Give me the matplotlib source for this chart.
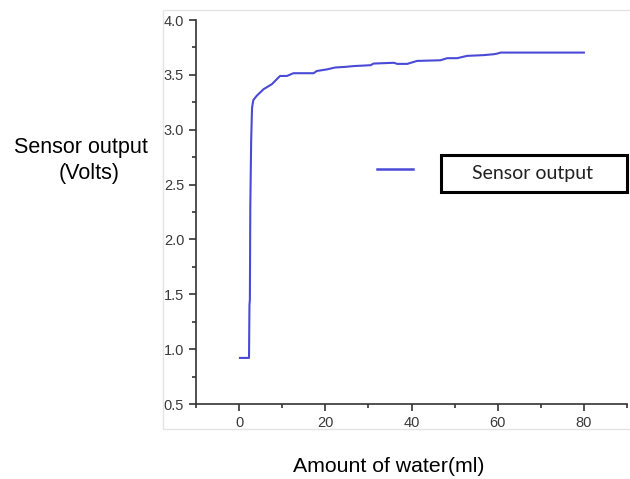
import numpy as np
from matplotlib import pyplot as plt
from matplotlib.patches import Rectangle
from matplotlib.lines import Line2D

# Data
water_ml = [0.2, 2.3, 2.4, 2.5, 2.6, 2.8, 3.0, 3.3, 4.1, 5.7, 7.6, 9.5, 11.1,
            12.6, 17.3, 18.0, 20.4, 22.3, 24.7, 26.6, 30.5, 31.2, 35.9, 36.7,
            39.0, 41.3, 46.7, 48.3, 50.6, 52.9, 56.8, 59.1, 59.9, 60.7, 80.0]
sensor_volts = [0.92, 0.92, 1.40, 1.45, 2.30, 2.90, 3.20, 3.27, 3.31, 3.37,
                3.415, 3.49, 3.49, 3.515, 3.515, 3.535, 3.55, 3.567, 3.573,
                3.58, 3.588, 3.603, 3.61, 3.60, 3.60, 3.627, 3.633, 3.652,
                3.652, 3.673, 3.68, 3.688, 3.694, 3.703, 3.703]

line_colour = "#4a4ad6"

plt.rcParams['font.family'] = ['Liberation Sans', 'DejaVu Sans']

fig = plt.figure(figsize=(6.30, 4.79), dpi=100)

# light grey frame around the plot area
fig.patches.append(Rectangle((163 / 630, 1 - 429 / 479), 1.0, (429 - 10) / 479,
                             transform=fig.transFigure, fill=False,
                             edgecolor="#e4e4e4", linewidth=1.0))

ax = fig.add_axes([196 / 630, 1 - 404 / 479, (627 - 196) / 630, (404 - 20) / 479])
ax.plot(water_ml, sensor_volts, color=line_colour, linewidth=1.5)

ax.set_xlim(-10, 90)
ax.set_ylim(0.5, 4.0)
ax.set_xticks([0, 20, 40, 60, 80])
ax.set_xticks([-10, 10, 30, 50, 70, 90], minor=True)
ax.set_yticks(np.arange(0.5, 4.01, 0.5))
ax.set_yticks(np.arange(0.75, 4.0, 0.5), minor=True)
ax.yaxis.set_major_formatter(plt.FormatStrFormatter("%.1f"))

for side in ["top", "right"]:
    ax.spines[side].set_visible(False)
for side in ["left", "bottom"]:
    ax.spines[side].set_color("#333333")
    ax.spines[side].set_linewidth(1.2)

ax.tick_params(which="major", direction="out", length=5, width=1.2,
               color="#333333", labelsize=10.5, labelcolor="#3a3a3a")
ax.tick_params(which="minor", direction="out", length=3, width=1.2,
               color="#333333")
ax.patch.set_alpha(0)

fig.text(81 / 630, 1 - 147 / 479, "Sensor output", ha="center",
         va="center", fontsize=15.5)
fig.text(89 / 630, 1 - 173 / 479, "(Volts)", ha="center",
         va="center", fontsize=15.5)
fig.text(389 / 630, 1 - 467 / 479, "Amount of water(ml)", ha="center",
         va="center", fontsize=15.3)

# legend drawn as in the original: sample line and a boxed label
fig.lines.append(Line2D([377 / 630, 413 / 630], [1 - 169 / 479, 1 - 169 / 479],
                        transform=fig.transFigure, color=line_colour,
                        linewidth=1.8))
fig.patches.append(Rectangle((441 / 630, 1 - 192 / 479), (627 - 441) / 630,
                             (192 - 155) / 479, transform=fig.transFigure,
                             fill=False, edgecolor="black", linewidth=2.2))
fig.text(532 / 630, 1 - 173 / 479, "Sensor output", ha="center", va="center",
         fontsize=14, family="Lato", color="#222222")

fig.savefig("out.png", dpi=100)
